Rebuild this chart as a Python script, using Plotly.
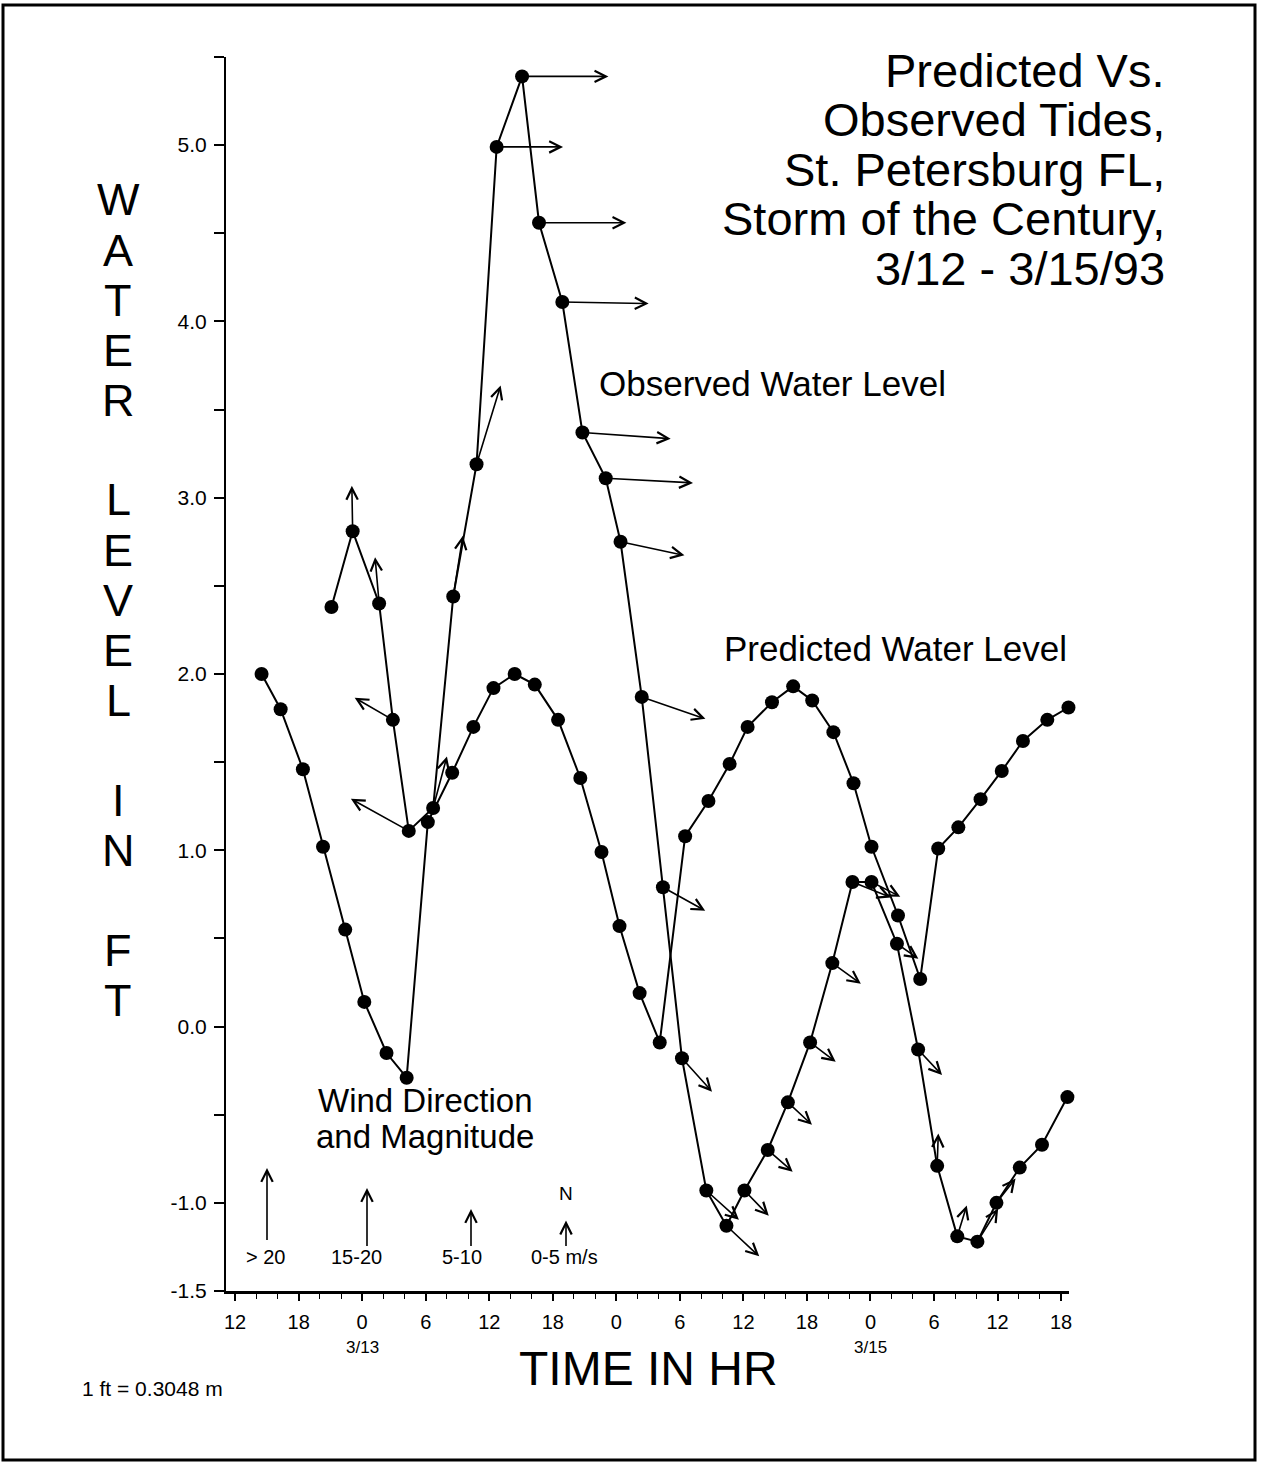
import math
import plotly.graph_objects as go

# ---------------- data ----------------
# time axis: hours since 3/12 00:00
pred_hours = [14.5, 16.3, 18.4, 20.3, 22.4, 24.2, 26.3, 28.2, 30.2, 32.5, 34.5, 36.4, 38.4,
              40.3, 42.5, 44.6, 46.6, 48.3, 50.2, 52.1, 54.5, 56.7, 58.7, 60.4, 62.7, 64.7,
              66.5, 68.5, 70.4, 72.1, 74.6, 76.7, 78.4, 80.3, 82.4, 84.4, 86.4, 88.7, 90.7]
pred_level = [2.00, 1.80, 1.46, 1.02, 0.55, 0.14, -0.15, -0.29, 1.16, 1.44, 1.70, 1.92, 2.00,
              1.94, 1.74, 1.41, 0.99, 0.57, 0.19, -0.09, 1.08, 1.28, 1.49, 1.70, 1.84, 1.93,
              1.85, 1.67, 1.38, 1.02, 0.63, 0.27, 1.01, 1.13, 1.29, 1.45, 1.62, 1.74, 1.81]

obs_hours = [21.1, 23.1, 25.6, 26.9, 28.4, 30.7, 32.6, 34.8, 36.7, 39.1, 40.7, 42.9, 44.8,
             47.0, 48.4, 50.4, 52.4, 54.2, 56.5, 58.4, 60.1, 62.3, 64.2, 66.3, 68.4, 70.3,
             72.1, 74.5, 76.5, 78.3, 80.2, 82.1, 83.9, 86.1, 88.2, 90.6]
obs_level = [2.38, 2.81, 2.40, 1.74, 1.11, 1.24, 2.44, 3.19, 4.99, 5.39, 4.56, 4.11, 3.37,
             3.11, 2.75, 1.87, 0.79, -0.18, -0.93, -1.13, -0.93, -0.70, -0.43, -0.09, 0.36, 0.82,
             0.82, 0.47, -0.13, -0.79, -1.19, -1.22, -1.00, -0.80, -0.67, -0.40]

# wind at each observation: direction the arrow points (deg clockwise from N), speed (m/s)
wind_dir_deg = [None, 359, 355, 300, 299, 15, 9, 17, 90, 90, 90, 91, 94, 93, 102, 109, 119,
                138, 132, 133, 136, 131, 133, 127, 126, 112, 117, 125, 137, 2, 17, 32, 38,
                None, None, None]
wind_speed = [None, 13.4, 13.7, 13.1, 19.4, 15.7, 18.0, 24.0, 19.4, 25.1, 25.4, 25.1, 25.7,
              25.4, 19.1, 19.7, 14.3, 13.4, 13.1, 13.4, 10.6, 10.0, 10.0, 9.7, 10.6, 12.3,
              9.7, 8.0, 10.6, 9.7, 9.7, 11.7, 9.4, None, None, None]

wind_key_labels = ["> 20", "15-20", "5-10", "0-5 m/s"]
wind_key_speed = [21.0, 17.0, 11.0, 7.7]

x_tick_hours = [12, 18, 24, 30, 36, 42, 48, 54, 60, 66, 72, 78, 84, 90]
x_tick_text = ["12", "18", "0", "6", "12", "18", "0", "6", "12", "18", "0", "6", "12", "18"]
date_hours = [24, 72]
date_labels = ["3/13", "3/15"]

y_tick_vals = [-1.5, -1.0, 0.0, 1.0, 2.0, 3.0, 4.0, 5.0]
y_tick_text = ["%.1f" % v for v in y_tick_vals]

title_lines = ["Predicted Vs.", "Observed Tides,", "St. Petersburg FL,",
               "Storm of the Century,", "3/12 - 3/15/93"]
y_title_words = ["WATER", "LEVEL", "IN", "FT"]

# ---------------- layout constants ----------------
W, H = 1269, 1464
ML, MR, MT, MB = 226, 200, 57, 173
X_RANGE = [11.14, 90.75]
Y_RANGE = [-1.5, 5.5]
PX_PER_MS = 3.5
FONT = "Liberation Sans, Arial, Helvetica, sans-serif"
PW = W - ML - MR
PH = H - MT - MB


def px(xp):
    return (xp - ML) / PW


def py(yp):
    return (H - MB - yp) / PH


fig = go.Figure()

line_style = dict(color="black", width=2)
marker_style = dict(color="black", size=14, symbol="circle")

fig.add_trace(go.Scatter(x=pred_hours, y=pred_level, mode="lines+markers",
                         line=line_style, marker=marker_style, cliponaxis=False,
                         name="Predicted Water Level", showlegend=False))
fig.add_trace(go.Scatter(x=obs_hours, y=obs_level, mode="lines+markers",
                         line=line_style, marker=marker_style, cliponaxis=False,
                         name="Observed Water Level", showlegend=False))

annotations = []


def text_at(xp, yp, s, size, xanchor="center", yanchor="middle"):
    annotations.append(dict(xref="paper", yref="paper", x=px(xp), y=py(yp), text=s,
                            showarrow=False, xanchor=xanchor, yanchor=yanchor,
                            font=dict(size=size, family=FONT, color="black")))


# wind arrows along observed series
for t, v, d, s in zip(obs_hours, obs_level, wind_dir_deg, wind_speed):
    if d is None:
        continue
    L = s * PX_PER_MS
    dx = L * math.sin(math.radians(d))
    dy = -L * math.cos(math.radians(d))
    annotations.append(dict(x=t, y=v, xref="x", yref="y", ax=dx, ay=dy, text="",
                            showarrow=True, arrowside="start", startarrowhead=5,
                            startarrowsize=1.4, arrowwidth=1.6, arrowcolor="black",
                            standoff=0, startstandoff=0))

# wind key
key_x = [267, 367, 471, 566]
key_base = [1240, 1246, 1246, 1246]
for kx, kb, lab, sp in zip(key_x, key_base, wind_key_labels, wind_key_speed):
    annotations.append(dict(xref="paper", yref="paper", x=px(kx), y=py(kb), ax=0,
                            ay=-sp * PX_PER_MS, text="", showarrow=True, arrowside="start",
                            startarrowhead=5, startarrowsize=1.4, arrowwidth=1.6,
                            arrowcolor="black", standoff=0, startstandoff=0))
key_label_x = [265, 356, 462, 564]
for kx, lab in zip(key_label_x, wind_key_labels):
    text_at(kx, 1257, lab, 20)
text_at(566, 1193, "N", 19)
text_at(425, 1100, "Wind Direction", 33)
text_at(425, 1136, "and Magnitude", 33)

# series labels
text_at(597, 383, "Observed Water Level", 35, xanchor="left")
text_at(722, 648, "Predicted Water Level", 35, xanchor="left")

# title
for i, line in enumerate(title_lines):
    text_at(1167, 70 + 49.5 * i, line, 47, xanchor="right")

# vertical y-axis title, one letter per row
row = 0
for word in y_title_words:
    for ch in word:
        text_at(118, 200 + 50 * row, ch, 45)
        row += 1
    row += 1

# date labels under ticks
for h, lab in zip(date_hours, date_labels):
    annotations.append(dict(xref="x", yref="paper", x=h, y=py(1347), text=lab,
                            showarrow=False, xanchor="center", yanchor="middle",
                            font=dict(size=17, family=FONT, color="black")))

text_at(648, 1368, "TIME IN HR", 48)
text_at(80, 1388, "1 ft = 0.3048 m", 21, xanchor="left")

# page frame
shapes = [dict(type="rect", xref="paper", yref="paper", x0=px(3), x1=px(1255),
               y0=py(1460), y1=py(5), line=dict(color="black", width=3))]

fig.update_layout(
    width=W, height=H, autosize=False,
    margin=dict(l=ML, r=MR, t=MT, b=MB, pad=0),
    paper_bgcolor="white", plot_bgcolor="white",
    font=dict(family=FONT, color="black"),
    annotations=annotations, shapes=shapes, showlegend=False,
    xaxis=dict(range=X_RANGE, showgrid=False, zeroline=False, showline=True,
               linecolor="black", linewidth=2.5, ticks="outside", ticklen=7,
               tickwidth=1.5, tickcolor="black", tickmode="array",
               tickvals=x_tick_hours, ticktext=x_tick_text,
               tickfont=dict(size=20, family=FONT, color="black"),
               ticklabelstandoff=4,
               minor=dict(tick0=0, dtick=2, ticks="outside", ticklen=5,
                          tickwidth=1.2, tickcolor="black", showgrid=False)),
    yaxis=dict(range=Y_RANGE, showgrid=False, zeroline=False, showline=True,
               linecolor="black", linewidth=2, ticks="outside", ticklen=10,
               tickwidth=1.5, tickcolor="black", tickmode="array",
               tickvals=y_tick_vals, ticktext=y_tick_text,
               tickfont=dict(size=21, family=FONT, color="black"),
               ticklabelstandoff=3,
               minor=dict(tick0=0, dtick=0.5, ticks="outside", ticklen=10,
                          tickwidth=1.5, tickcolor="black", showgrid=False)),
)

fig.write_html("out.html", config={"displayModeBar": False},
               post_script="document.body.style.margin='0';document.body.style.overflow='hidden';")
